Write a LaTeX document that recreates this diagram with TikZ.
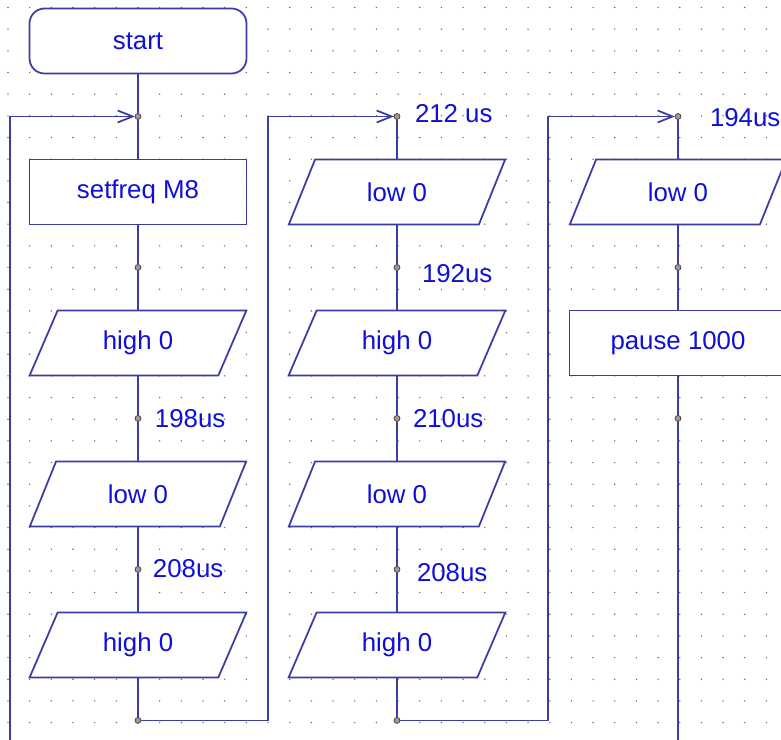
\documentclass[tikz,border=0pt]{standalone}
\usepackage{fontspec}
\setmainfont{Liberation Sans}
\usetikzlibrary{shapes.geometric, arrows.meta, positioning, calc}
\definecolor{flowblue}{RGB}{60,60,165}
\definecolor{textblue}{RGB}{15,15,215}
\definecolor{griddot}{RGB}{105,105,105}
\definecolor{joinfill}{RGB}{165,150,135}

\begin{document}
\begin{tikzpicture}[
        x=0.02cm, y=-0.02cm,
        node distance=0.8cm,
        every node/.style={outer sep=0pt},
        terminal/.style={rectangle, rounded corners=0.3cm, draw=flowblue, fill=white, line width=1pt, minimum width=4.34cm, minimum height=1.3cm, inner sep=0pt, font=\fontsize{14.7}{17}\selectfont, text=textblue},
        box/.style={rectangle, draw=flowblue, fill=white, line width=1pt, minimum width=4.34cm, minimum height=1.3cm, inner sep=0pt, font=\fontsize{14.7}{17}\selectfont, text=textblue},
        io/.style={trapezium, trapezium left angle=63, trapezium right angle=117, trapezium stretches=true, draw=flowblue, fill=white, line width=1pt, minimum width=4.34cm, minimum height=1.3cm, inner sep=0pt, font=\fontsize{14.7}{17}\selectfont, text=textblue},
        junction/.style={circle, draw=black!75, fill=joinfill, line width=0.4pt, minimum size=0.12cm, inner sep=0pt},
        lbl/.style={inner sep=0pt, font=\fontsize{14.7}{17}\selectfont, text=textblue},
        flow/.style={draw=flowblue, line width=1pt},
        arrow/.style={flow, -{Straight Barb[length=0.3cm, width=0.24cm]}}
    ]
        \useasboundingbox (0,0) rectangle (781,740);
        \clip (0,0) rectangle (781,740);

        % editor grid
        \foreach \i in {0,...,36}
            \foreach \j in {0,...,34}
                \fill[griddot] ({8+21.67*\i},{7.5+21.67*\j}) circle (0.45pt);

        % first column
        \node[terminal] (start) at (138,41) {start};
        \node[junction, below=of start] (j1) {};
        \node[box, below=of j1] (setfreq) {setfreq M8};
        \node[junction, below=of setfreq] (j2) {};
        \node[io, below=of j2] (high1) {high 0};
        \node[junction, below=of high1] (j3) {};
        \node[io, below=of j3] (low1) {low 0};
        \node[junction, below=of low1] (j4) {};
        \node[io, below=of j4] (high2) {high 0};
        \node[junction, below=of high2] (j5) {};

        % second column
        \node[junction] (k1) at ($(j1)+(259,0)$) {};
        \node[io, below=of k1] (low2) {low 0};
        \node[junction, below=of low2] (k2) {};
        \node[io, below=of k2] (high3) {high 0};
        \node[junction, below=of high3] (k3) {};
        \node[io, below=of k3] (low3) {low 0};
        \node[junction, below=of low3] (k4) {};
        \node[io, below=of k4] (high4) {high 0};
        \node[junction, below=of high4] (k5) {};

        % third column
        \node[junction] (m1) at ($(k1)+(281,0)$) {};
        \node[io, below=of m1] (low4) {low 0};
        \node[junction, below=of low4] (m2) {};
        \node[box, below=of m2] (pause) {pause 1000};
        \node[junction, below=of pause] (m3) {};

        % delays
        \node[lbl, right=0.28cm of j3] (d198) {198us};
        \node[lbl, right=0.24cm of j4, yshift=0.02cm] (d208a) {208us};
        \node[lbl, right=0.30cm of k1, yshift=0.06cm] (d212) {212 us};
        \node[lbl, right=0.44cm of k2, yshift=-0.12cm] (d192) {192us};
        \node[lbl, right=0.26cm of k3] (d210) {210us};
        \node[lbl, right=0.34cm of k4, yshift=-0.06cm] (d208b) {208us};
        \node[lbl, right=0.58cm of m1, yshift=-0.02cm] (d194) {194us};

        \coordinate (loopfoot) at (10,760);
        \coordinate (turn1) at ($(j5)+(130,0)$);
        \coordinate (turn2) at ($(k5)+(151,0)$);
        \coordinate (colfoot) at ($(m3)+(0,400)$);

        \draw[flow] (start) -- (j1) -- (setfreq) -- (j2) -- (high1) -- (j3) -- (low1) -- (j4) -- (high2) -- (j5);
        \draw[flow] (k1) -- (low2) -- (k2) -- (high3) -- (k3) -- (low3) -- (k4) -- (high4) -- (k5);
        \draw[flow] (m1) -- (low4) -- (m2) -- (pause) -- (m3) -- (colfoot);

        \draw[arrow] (loopfoot) |- (j1);
        \draw[arrow] (j5) -- (turn1) |- (k1);
        \draw[arrow] (k5) -- (turn2) |- (m1);
    \end{tikzpicture}
\end{document}
